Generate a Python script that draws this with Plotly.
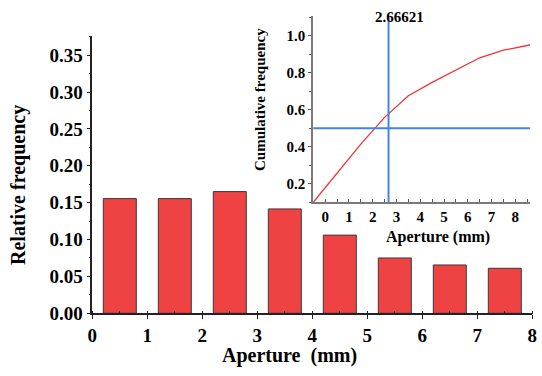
import plotly.graph_objects as go

# Relative frequency histogram of aperture
bin_centers = [0.5, 1.5, 2.5, 3.5, 4.5, 5.5, 6.5, 7.5]
rel_freq = [0.1555, 0.1555, 0.165, 0.1415, 0.106, 0.075, 0.0655, 0.061]

# Cumulative frequency curve (inset)
cum_x = [-0.5, 0.5, 1.5, 2.5, 3.5, 4.5, 5.5, 6.5, 7.5, 8.6, 9.2]
cum_y = [0.1, 0.257, 0.414, 0.559, 0.676, 0.748, 0.816, 0.881, 0.922, 0.95, 0.95]

median_aperture = 2.66621
half_level = 0.5

FONT = "Liberation Serif, Times New Roman, serif"
RED = "#EF4242"
BLUE = "#4285E0"

fig = go.Figure()

fig.add_trace(go.Bar(
    x=bin_centers, y=rel_freq, width=0.6,
    marker=dict(color=RED, line=dict(color="#3a3a3a", width=1)),
    xaxis="x", yaxis="y", showlegend=False,
))

fig.add_trace(go.Scatter(
    x=cum_x, y=cum_y, mode="lines",
    line=dict(color="#EE3535", width=1.3),
    xaxis="x2", yaxis="y2", showlegend=False,
))

# Reference lines at the median
fig.add_trace(go.Scatter(
    x=[median_aperture, median_aperture], y=[0.0, 1.2], mode="lines",
    line=dict(color=BLUE, width=2), xaxis="x2", yaxis="y2", showlegend=False,
))
fig.add_trace(go.Scatter(
    x=[-1, 10], y=[half_level, half_level], mode="lines",
    line=dict(color=BLUE, width=2), xaxis="x2", yaxis="y2", showlegend=False,
))

main_tick_font = dict(family=FONT, size=19, color="black", weight="bold")
inset_tick_font = dict(family=FONT, size=15, color="black", weight="bold")


def label(text, px, py, size, angle=0):
    """Bold caption centred on a pixel position of the 542x376 page."""
    return dict(text=text, x=px / 542, y=(376 - py) / 376, xref="paper", yref="paper",
                xanchor="center", yanchor="middle", textangle=angle, showarrow=False,
                font=dict(family=FONT, size=size, color="black", weight="bold"))


fig.update_layout(
    template="none",
    width=542, height=376,
    margin=dict(l=0, r=0, t=0, b=0),
    font=dict(family=FONT, color="black"),
    paper_bgcolor="white", plot_bgcolor="rgba(0,0,0,0)",
    xaxis=dict(
        domain=[0.1703, 0.9821], range=[0, 8], anchor="y", automargin=False,
        showline=True, linecolor="#222", linewidth=1.5,
        tickmode="linear", tick0=0, dtick=1,
        ticks="outside", ticklen=4, tickcolor="#222", tickwidth=1.2,
        minor=dict(dtick=0.5, ticks="inside", ticklen=3, tickcolor="#222"),
        showgrid=False, zeroline=False, tickfont=main_tick_font,
    ),
    yaxis=dict(
        domain=[0.1668, 0.9043], range=[0, 0.376], anchor="x", automargin=False,
        showline=True, linecolor="#222", linewidth=1.5,
        tickmode="linear", tick0=0, dtick=0.05, tickformat=".2f",
        ticks="outside", ticklen=4, tickcolor="#222", tickwidth=1.2,
        minor=dict(dtick=0.025, ticks="outside", ticklen=2, tickcolor="#222"),
        showgrid=False, zeroline=False, tickfont=main_tick_font,
    ),
    xaxis2=dict(
        domain=[0.578, 0.978], range=[-0.5, 8.62], anchor="y2", automargin=False,
        showline=True, linecolor="#7a7a7a", linewidth=2,
        tickmode="linear", tick0=0, dtick=1,
        ticks="inside", ticklen=3, tickcolor="#555",
        minor=dict(dtick=0.5, ticks="inside", ticklen=3, tickcolor="#555"),
        showgrid=False, zeroline=False, tickfont=inset_tick_font,
    ),
    yaxis2=dict(
        domain=[0.462, 0.958], range=[0.1, 1.108], anchor="x2", automargin=False,
        showline=True, linecolor="#7a7a7a", linewidth=2,
        tickmode="array", tickvals=[0.2, 0.4, 0.6, 0.8, 1.0],
        ticktext=["0.2", "0.4", "0.6", "0.8", "1.0"],
        ticks="outside", ticklen=3, tickcolor="#555",
        minor=dict(dtick=0.1, ticks="outside", ticklen=2, tickcolor="#555"),
        showgrid=False, zeroline=False, tickfont=inset_tick_font,
    ),
    annotations=[
        label("Relative frequency", 18, 185, 20, angle=-90),
        label("Aperture  (mm)", 289, 355, 20),
        label("Cumulative frequency", 260, 100, 15, angle=-90),
        label("Aperture (mm)", 438, 237, 16),
        label(f"{median_aperture}", 399, 17, 15),
    ],
)

fig.write_html("out.html")
